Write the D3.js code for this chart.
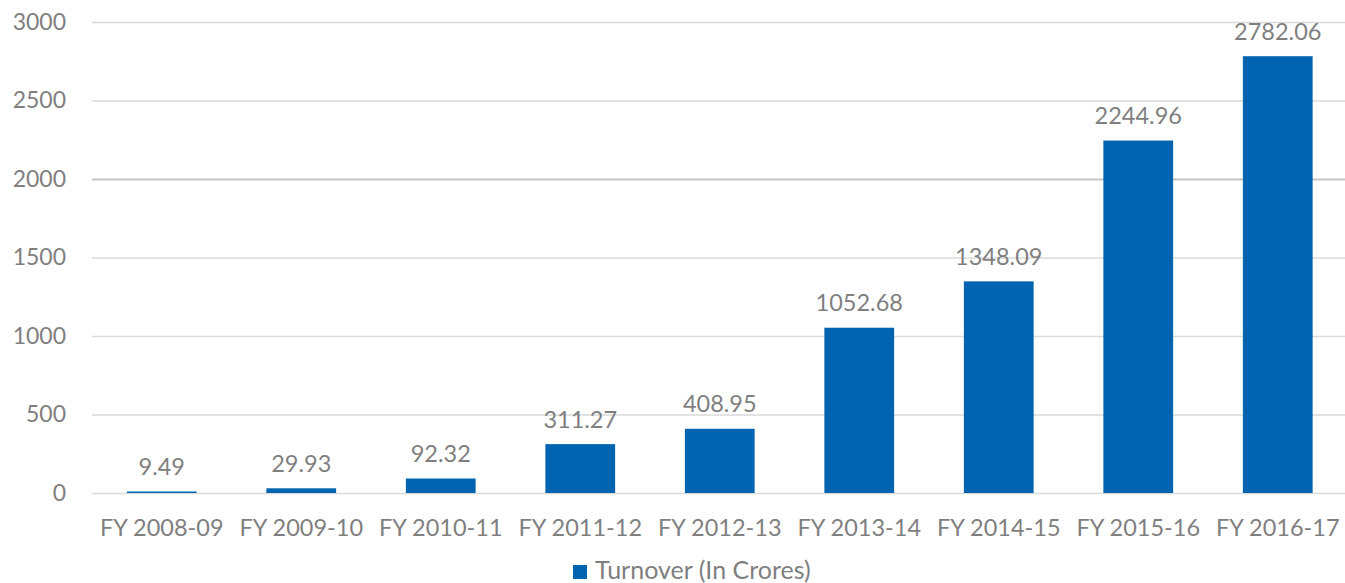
<!DOCTYPE html>
<html>
<head>
<meta charset="utf-8">
<script src="https://cdn.jsdelivr.net/npm/d3@7"></script>
<style>
  html, body { margin: 0; padding: 0; background: #fff; }
  svg { display: block; }
</style>
</head>
<body>
<script>
const categories = ["FY 2008-09","FY 2009-10","FY 2010-11","FY 2011-12","FY 2012-13","FY 2013-14","FY 2014-15","FY 2015-16","FY 2016-17"];
const turnover = [9.49, 29.93, 92.32, 311.27, 408.95, 1052.68, 1348.09, 2244.96, 2782.06];
const yTicks = [0, 500, 1000, 1500, 2000, 2500, 3000];
const seriesName = "Turnover (In Crores)";

const W = 1345, H = 583;
const plotLeft = 92, plotRight = 1347.5, plotTop = 22, plotBottom = 493;
const font = "Lato, 'Open Sans', sans-serif";
const textColor = "#7f7f7f";
const barColor = "#0064b0";

const svg = d3.select("body").append("svg").attr("width", W).attr("height", H);

const x = d3.scaleBand().domain(categories).range([plotLeft, plotRight]).paddingInner(0.5).paddingOuter(0.25);
const y = d3.scaleLinear().domain([0, 3000]).range([plotBottom, plotTop]);

// gridlines + y labels
const yAxis = d3.axisLeft(y).tickValues(yTicks).tickFormat(d3.format("d"))
  .tickSize(-(W - plotLeft)).tickPadding(26);
const gy = svg.append("g").attr("transform", `translate(${plotLeft},0)`).call(yAxis);
gy.select(".domain").remove();
gy.selectAll(".tick line")
  .attr("stroke", d => d === 2000 ? "#c4c4c4" : "#dadada")
  .attr("stroke-width", d => d === 2000 ? 2 : 1.3);
gy.selectAll(".tick text").attr("font-family", font).attr("font-size", 23).attr("fill", textColor);

// bars
svg.append("g").selectAll("rect").data(turnover).join("rect")
  .attr("x", (d, i) => x(categories[i]))
  .attr("width", x.bandwidth())
  .attr("y", d => y(d))
  .attr("height", d => y(0) - y(d))
  .attr("fill", barColor);

// data labels
svg.append("g").selectAll("text").data(turnover).join("text")
  .attr("x", (d, i) => x(categories[i]) + x.bandwidth() / 2)
  .attr("y", d => y(d) - 16.5)
  .attr("text-anchor", "middle")
  .attr("font-family", font).attr("font-size", 23.5).attr("fill", textColor)
  .text(d => d.toFixed(2));

// x axis labels
const xAxis = d3.axisBottom(x).tickSize(0);
const gx = svg.append("g").attr("transform", `translate(0,${plotBottom})`).call(xAxis);
gx.select(".domain").remove();
gx.selectAll(".tick text").attr("dy", null).attr("y", 43)
  .attr("font-family", font).attr("font-size", 23.5).attr("fill", textColor);

// legend
const lg = svg.append("g");
lg.append("rect").attr("x", 573).attr("y", 565).attr("width", 14).attr("height", 14).attr("fill", barColor);
lg.append("text").attr("x", 595).attr("y", 579)
  .attr("font-family", font).attr("font-size", 25).attr("fill", textColor)
  .text(seriesName);
</script>
</body>
</html>
